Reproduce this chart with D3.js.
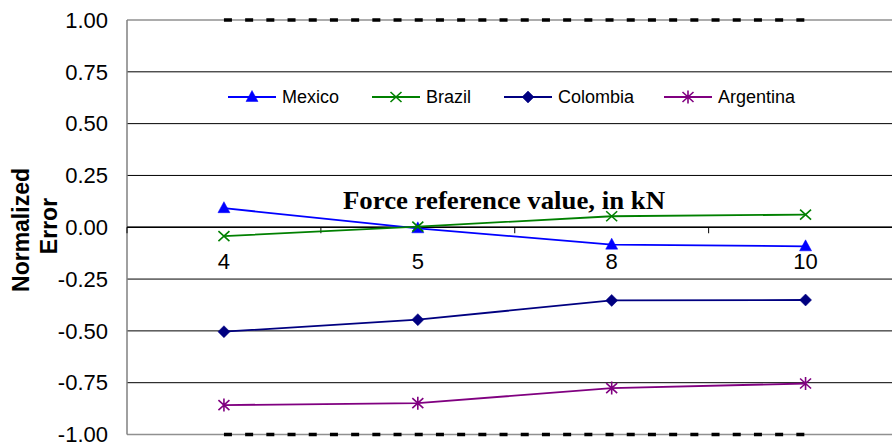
<!DOCTYPE html>
<html><head><meta charset="utf-8">
<script src="https://cdn.jsdelivr.net/npm/d3@7"></script>
<style>body{margin:0;background:#fff;overflow:hidden}</style>
</head><body>
<svg id="c" width="892" height="443"></svg>
<script>
const categories = ["4", "5", "8", "10"];
const mexico    = [0.092, -0.005, -0.084, -0.092];
const brazil    = [-0.043, 0.003, 0.053, 0.061];
const colombia  = [-0.504, -0.446, -0.353, -0.351];
const argentina = [-0.858, -0.849, -0.776, -0.754];
const upperLimit = [1, 1, 1, 1];
const lowerLimit = [-1, -1, -1, -1];
const yTicks = [1, 0.75, 0.5, 0.25, 0, -0.25, -0.5, -0.75, -1];
const seriesNames = ["Mexico", "Brazil", "Colombia", "Argentina"];
const xTitle = "Force reference value, in kN";
const yTitle = ["Normalized", "Error"];

const series = [
  {name: seriesNames[0], values: mexico,    color: "#0000ff", marker: "triangle"},
  {name: seriesNames[1], values: brazil,    color: "#008000", marker: "x"},
  {name: seriesNames[2], values: colombia,  color: "#000080", marker: "diamond"},
  {name: seriesNames[3], values: argentina, color: "#800080", marker: "star"}
];

const svg = d3.select("#c");
const x = d3.scaleBand().domain(categories).range([127, 902.5]).padding(0);
const y = d3.scaleLinear().domain([-1, 1]).range([434.5, 20]);
const cx = c => x(c) + x.bandwidth() / 2;
const fmt = d => d3.format(".2f")(d).replace("\u2212", "-");

// gridlines
svg.append("g").selectAll("line").data(yTicks).join("line")
  .attr("x1", 127).attr("x2", 892)
  .attr("y1", d => y(d)).attr("y2", d => y(d))
  .attr("stroke", d => (d === 1 || d === -1) ? "#909090" : "#000")
  .attr("stroke-width", d => (d === 1 || d === -1) ? 1.5 : 1);

// y axis line
svg.append("line").attr("x1", 127).attr("x2", 127).attr("y1", y(1)).attr("y2", y(-1))
  .attr("stroke", "#808080").attr("stroke-width", 1.5);

// x axis at zero with ticks
const xAxis = d3.axisBottom(x).tickSize(0).tickFormat("");
const gx = svg.append("g").attr("transform", `translate(0,${y(0)})`).call(xAxis);
gx.select(".domain").remove();
svg.append("line").attr("x1", 127).attr("x2", 892).attr("y1", y(0)).attr("y2", y(0))
  .attr("stroke", "#000").attr("stroke-width", 1.5);
const bounds = categories.map(c => x(c)).concat([x(categories[categories.length-1]) + x.bandwidth()]);
svg.append("g").selectAll("line").data(bounds).join("line")
  .attr("x1", d => d).attr("x2", d => d).attr("y1", y(0)).attr("y2", y(0) + 6)
  .attr("stroke", "#000").attr("stroke-width", 1);

// y tick labels
svg.append("g").selectAll("text").data(yTicks).join("text")
  .attr("x", 108).attr("y", d => y(d)).attr("dy", "0.35em")
  .attr("text-anchor", "end")
  .style("font", "22px 'Liberation Sans', Arial, sans-serif")
  .text(fmt);

// x tick labels
svg.append("g").selectAll("text").data(categories).join("text")
  .attr("x", d => cx(d)).attr("y", 269)
  .attr("text-anchor", "middle")
  .style("font", "22px 'Liberation Sans', Arial, sans-serif")
  .text(d => d);

// limit dashed lines
[upperLimit, lowerLimit].forEach(vals => {
  svg.append("path")
    .attr("d", d3.line().x((d, i) => cx(categories[i])).y(d => y(d))(vals))
    .attr("fill", "none").attr("stroke", "#000").attr("stroke-width", 3.5)
    .attr("stroke-dasharray", "8,13.2");
});

// marker paths
function markerPath(type) {
  if (type === "triangle") return "M0,-6.5L6,4.5L-6,4.5Z";
  if (type === "diamond") return "M0,-6L6,0L0,6L-6,0Z";
  if (type === "x") return "M-5.5,-5L5.5,5M-5.5,5L5.5,-5";
  return "M-5.5,-5L5.5,5M-5.5,5L5.5,-5M0,-6.5L0,6.5";
}
function drawMarker(g, type, color, px, py) {
  const filled = type === "triangle" || type === "diamond";
  g.append("path").attr("d", markerPath(type))
    .attr("transform", `translate(${px},${py})`)
    .attr("fill", filled ? color : "none")
    .attr("stroke", color).attr("stroke-width", filled ? 0.5 : 1.6);
}

// series
series.forEach(s => {
  const g = svg.append("g");
  g.append("path")
    .attr("d", d3.line().x((d, i) => cx(categories[i])).y(d => y(d))(s.values))
    .attr("fill", "none").attr("stroke", s.color).attr("stroke-width", 1.8);
  s.values.forEach((v, i) => drawMarker(g, s.marker, s.color, cx(categories[i]), y(v)));
});

// legend
const legendX = [228, 372, 504, 664];
const legendY = 97;
series.forEach((s, i) => {
  const g = svg.append("g");
  g.append("line").attr("x1", legendX[i]).attr("x2", legendX[i] + 48)
    .attr("y1", legendY).attr("y2", legendY).attr("stroke", s.color).attr("stroke-width", 1.8);
  drawMarker(g, s.marker, s.color, legendX[i] + 24, legendY);
  g.append("text").attr("x", legendX[i] + 54).attr("y", legendY).attr("dy", "0.36em")
    .style("font", "18px 'Liberation Sans', Arial, sans-serif")
    .text(s.name);
});

// x title
svg.append("text").attr("x", 343).attr("y", 209)
  .attr("textLength", 322).attr("lengthAdjust", "spacingAndGlyphs")
  .style("font", "bold 25px 'Liberation Serif', 'Times New Roman', serif")
  .text(xTitle);

// y title
const yt = svg.append("text").attr("transform", "translate(0,230) rotate(-90)")
  .attr("text-anchor", "middle")
  .style("font", "bold 23px 'Liberation Sans', Arial, sans-serif");
yt.append("tspan").attr("x", 0).attr("y", 29).text(yTitle[0]);
yt.append("tspan").attr("x", 4).attr("y", 57).text(yTitle[1]);
</script>
</body></html>
